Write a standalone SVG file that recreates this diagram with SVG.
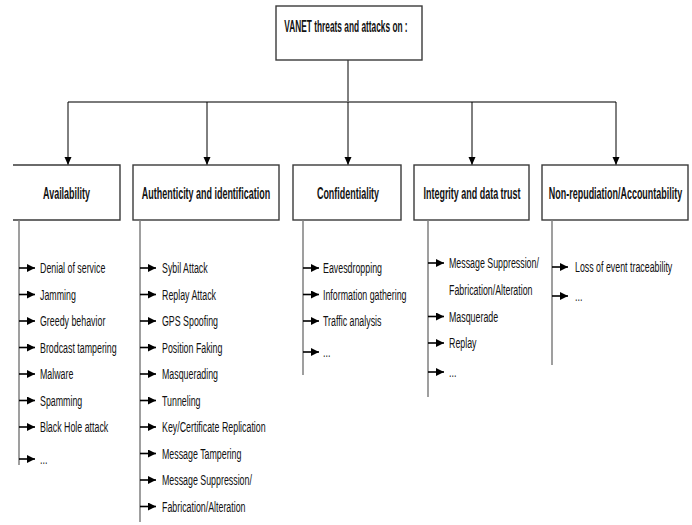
<svg xmlns="http://www.w3.org/2000/svg" width="692" height="525" viewBox="0 0 692 525">
<style>
.box{fill:#fff;stroke:#3a3a3a;stroke-width:1.4}
.hdr{font-family:"Liberation Sans",Arial,sans-serif;font-size:16px;font-weight:bold;fill:#111;text-anchor:middle}
.it{font-family:"Liberation Sans",Arial,sans-serif;font-size:15px;fill:#111}
.drop{stroke:#000;stroke-width:1;fill:none}
.bar{stroke:#7a7a7a;stroke-width:2;fill:none}
.vl{stroke:#7f7f7f;stroke-width:1.5;fill:none}
.ia{stroke:#000;stroke-width:1.6;fill:none}
</style>
<defs>
<marker id="ah" markerUnits="userSpaceOnUse" markerWidth="8" markerHeight="9" refX="8" refY="3.5" orient="auto"><path d="M0,0 L8,3.5 L0,7 z" fill="#000"/></marker>
<marker id="ai" markerUnits="userSpaceOnUse" markerWidth="9" markerHeight="9" refX="8" refY="4" orient="auto"><path d="M0,0 L8,4 L0,8 z" fill="#000"/></marker>
</defs>
<g id="connectors">
<line class="drop" x1="348" y1="60" x2="348" y2="102"/>
<line class="bar" x1="68" y1="102" x2="616" y2="102"/>
<line class="drop" x1="68" y1="102" x2="68" y2="165" marker-end="url(#ah)"/>
<line class="drop" x1="207" y1="102" x2="207" y2="165" marker-end="url(#ah)"/>
<line class="drop" x1="348" y1="102" x2="348" y2="165" marker-end="url(#ah)"/>
<line class="drop" x1="472" y1="102" x2="472" y2="165" marker-end="url(#ah)"/>
<line class="drop" x1="616" y1="102" x2="616" y2="165" marker-end="url(#ah)"/>
</g>
<g id="root">
<rect class="box" x="276" y="6" width="146" height="54"/>
<text class="hdr" transform="translate(346,32) scale(0.52,1)">VANET threats and attacks on :</text>
</g>
<g id="availability">
<path class="box" d="M13,165 H120 V220 H13"/>
<text class="hdr" transform="translate(66.5,199) scale(0.56,1)">Availability</text>
<line class="vl" x1="19" y1="220" x2="19" y2="465"/>
<g class="ia">
<line x1="19" y1="268" x2="35" y2="268" marker-end="url(#ai)"/>
<line x1="19" y1="294.5" x2="35" y2="294.5" marker-end="url(#ai)"/>
<line x1="19" y1="321" x2="35" y2="321" marker-end="url(#ai)"/>
<line x1="19" y1="347.5" x2="35" y2="347.5" marker-end="url(#ai)"/>
<line x1="19" y1="374" x2="35" y2="374" marker-end="url(#ai)"/>
<line x1="19" y1="400.5" x2="35" y2="400.5" marker-end="url(#ai)"/>
<line x1="19" y1="427" x2="35" y2="427" marker-end="url(#ai)"/>
<line x1="19" y1="459" x2="35" y2="459" marker-end="url(#ai)"/>
</g>
<text class="it" transform="translate(40,273) scale(0.59,1)">Denial of service</text>
<text class="it" transform="translate(40,299.5) scale(0.59,1)">Jamming</text>
<text class="it" transform="translate(40,326) scale(0.59,1)">Greedy behavior</text>
<text class="it" transform="translate(40,352.5) scale(0.59,1)">Brodcast tampering</text>
<text class="it" transform="translate(40,379) scale(0.59,1)">Malware</text>
<text class="it" transform="translate(40,405.5) scale(0.59,1)">Spamming</text>
<text class="it" transform="translate(40,432) scale(0.59,1)">Black Hole attack</text>
<text class="it" transform="translate(40,464) scale(0.59,1)">...</text>
</g>
<g id="authenticity">
<rect class="box" x="133" y="165" width="146" height="55"/>
<text class="hdr" transform="translate(206,199) scale(0.56,1)">Authenticity and identification</text>
<line class="vl" x1="140" y1="220" x2="140" y2="522"/>
<g class="ia">
<line x1="140" y1="268" x2="156" y2="268" marker-end="url(#ai)"/>
<line x1="140" y1="294.5" x2="156" y2="294.5" marker-end="url(#ai)"/>
<line x1="140" y1="321" x2="156" y2="321" marker-end="url(#ai)"/>
<line x1="140" y1="347.5" x2="156" y2="347.5" marker-end="url(#ai)"/>
<line x1="140" y1="374" x2="156" y2="374" marker-end="url(#ai)"/>
<line x1="140" y1="400.5" x2="156" y2="400.5" marker-end="url(#ai)"/>
<line x1="140" y1="427" x2="156" y2="427" marker-end="url(#ai)"/>
<line x1="140" y1="453.5" x2="156" y2="453.5" marker-end="url(#ai)"/>
<line x1="140" y1="480" x2="156" y2="480" marker-end="url(#ai)"/>
<line x1="140" y1="506.5" x2="156" y2="506.5" marker-end="url(#ai)"/>
</g>
<text class="it" transform="translate(162,273) scale(0.59,1)">Sybil Attack</text>
<text class="it" transform="translate(162,299.5) scale(0.59,1)">Replay Attack</text>
<text class="it" transform="translate(162,326) scale(0.59,1)">GPS Spoofing</text>
<text class="it" transform="translate(162,352.5) scale(0.59,1)">Position Faking</text>
<text class="it" transform="translate(162,379) scale(0.59,1)">Masquerading</text>
<text class="it" transform="translate(162,405.5) scale(0.59,1)">Tunneling</text>
<text class="it" transform="translate(162,432) scale(0.59,1)">Key/Certificate Replication</text>
<text class="it" transform="translate(162,458.5) scale(0.59,1)">Message Tampering</text>
<text class="it" transform="translate(162,485) scale(0.59,1)">Message Suppression/</text>
<text class="it" transform="translate(162,511.5) scale(0.59,1)">Fabrication/Alteration</text>
</g>
<g id="confidentiality">
<rect class="box" x="293" y="165" width="108" height="55"/>
<text class="hdr" transform="translate(348,199) scale(0.56,1)">Confidentiality</text>
<line class="vl" x1="303" y1="220" x2="303" y2="375"/>
<g class="ia">
<line x1="303" y1="268" x2="319" y2="268" marker-end="url(#ai)"/>
<line x1="303" y1="294.5" x2="319" y2="294.5" marker-end="url(#ai)"/>
<line x1="303" y1="321" x2="319" y2="321" marker-end="url(#ai)"/>
<line x1="303" y1="352" x2="319" y2="352" marker-end="url(#ai)"/>
</g>
<text class="it" transform="translate(323,273) scale(0.59,1)">Eavesdropping</text>
<text class="it" transform="translate(323,299.5) scale(0.59,1)">Information gathering</text>
<text class="it" transform="translate(323,326) scale(0.59,1)">Traffic analysis</text>
<text class="it" transform="translate(323,357) scale(0.59,1)">...</text>
</g>
<g id="integrity">
<rect class="box" x="414" y="165" width="115" height="55"/>
<text class="hdr" transform="translate(472,199) scale(0.56,1)">Integrity and data trust</text>
<line class="vl" x1="428" y1="220" x2="428" y2="397"/>
<g class="ia">
<line x1="428" y1="263" x2="444" y2="263" marker-end="url(#ai)"/>
<line x1="428" y1="316.5" x2="444" y2="316.5" marker-end="url(#ai)"/>
<line x1="428" y1="343" x2="444" y2="343" marker-end="url(#ai)"/>
<line x1="428" y1="372" x2="444" y2="372" marker-end="url(#ai)"/>
</g>
<text class="it" transform="translate(449,268) scale(0.59,1)">Message Suppression/</text>
<text class="it" transform="translate(449,295) scale(0.59,1)">Fabrication/Alteration</text>
<text class="it" transform="translate(449,321.5) scale(0.59,1)">Masquerade</text>
<text class="it" transform="translate(449,348) scale(0.59,1)">Replay</text>
<text class="it" transform="translate(449,377) scale(0.59,1)">...</text>
</g>
<g id="nonrepudiation">
<rect class="box" x="542" y="165" width="146" height="55"/>
<text class="hdr" transform="translate(615.5,199) scale(0.56,1)">Non-repudiation/Accountability</text>
<line class="vl" x1="552" y1="220" x2="552" y2="365"/>
<g class="ia">
<line x1="552" y1="267" x2="568" y2="267" marker-end="url(#ai)"/>
<line x1="552" y1="296" x2="568" y2="296" marker-end="url(#ai)"/>
</g>
<text class="it" transform="translate(575,272) scale(0.59,1)">Loss of event traceability</text>
<text class="it" transform="translate(575,301) scale(0.59,1)">...</text>
</g>
</svg>
